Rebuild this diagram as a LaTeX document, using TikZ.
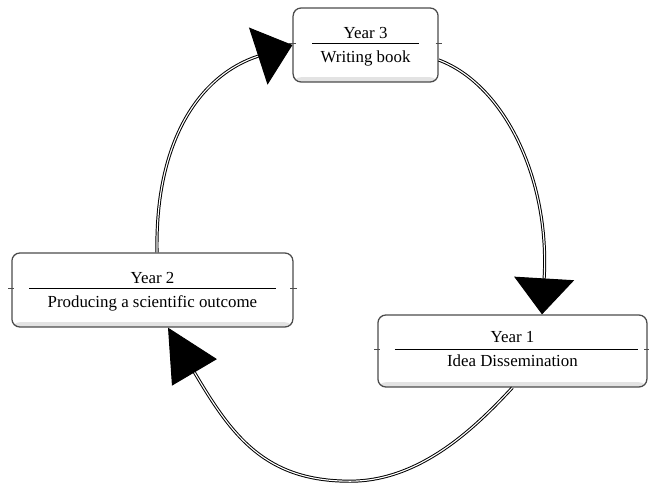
\documentclass[tikz,border=0pt]{standalone}
\usepackage{fontspec}
\setmainfont{Liberation Serif}
\usetikzlibrary{arrows.meta,calc,positioning}

\begin{document}
\begin{tikzpicture}[font=\fontsize{12}{14}\selectfont,
  yearbox/.style={draw=gray!60!black, line width=0.9pt, rounded corners=0.2cm, fill=white,
    minimum height=1.85cm, inner sep=0pt,
    path picture={\fill[gray!22] (path picture bounding box.south west) rectangle
      ([yshift=0.12cm]path picture bounding box.south east);}},
  yeartext/.style={inner sep=0pt, anchor=base},
  flow/.style={draw=black, line width=0.7pt, double=white, double distance=0.8pt}]
  \useasboundingbox (0,0) rectangle (16.225,12.1);

  \node[yearbox, minimum width=3.625cm] (y3) at (9.14,10.975) {};
  \node[yearbox, minimum width=7.025cm] (y2) at (3.81,4.85) {};
  \node[yearbox, minimum width=6.725cm, minimum height=1.8cm] (y1) at (12.81,3.325) {};

  \node[yeartext] (y3a) at ($(y3)+(0,0.17)$) {Year 3};
  \node[yeartext] (y3b) at ($(y3)+(0,-0.43)$) {Writing book};
  \node[yeartext] (y2a) at ($(y2)+(0,0.17)$) {Year 2};
  \node[yeartext] (y2b) at ($(y2)+(0,-0.43)$) {Producing a scientific outcome};
  \node[yeartext] (y1a) at ($(y1)+(0,0.2)$) {Year 1};
  \node[yeartext] (y1b) at ($(y1)+(0,-0.4)$) {Idea Dissemination};

  \draw[line width=0.6pt] ($(y3)+(-1.34,0.05)$) -- ($(y3)+(1.34,0.05)$);
  \draw[line width=0.6pt] ($(y2)+(-3.08,0.05)$) -- ($(y2)+(3.08,0.05)$);
  \draw[line width=0.6pt] ($(y1)+(-2.94,0.05)$) -- ($(y1)+(3.14,0.05)$);
  \foreach \b in {y1,y2,y3} {
    \draw[gray!60!black, line width=0.6pt] ($(\b.west)+(-0.08,0.05)$) -- ++(0.16,0);
    \draw[gray!60!black, line width=0.6pt] ($(\b.east)+(-0.08,0.05)$) -- ++(0.16,0);
  }

  \draw[flow, -{Triangle[length=0.9cm, width=1.5cm]}] ($(y3.east)+(0,-0.375)$)
    .. controls (12.625,9.975) and (13.75,7.6) .. ($(y1.north)+(0.74,0)$);
  \draw[flow, -{Triangle[length=1.3cm, width=1.3cm]}] (y1.south)
    .. controls (11.875,1.4) and (10.5,0.07) .. (8.75,0.07)
    .. controls (6.625,0.07) and (5.8,1.2) .. ($(y2.south)+(0.39,0)$);
  \draw[flow, -{Triangle[length=0.9cm, width=1.5cm]}] ($(y2.north)+(0.115,0)$)
    .. controls (3.875,8.6) and (5.0,10.225) .. (y3.west);
\end{tikzpicture}
\end{document}
